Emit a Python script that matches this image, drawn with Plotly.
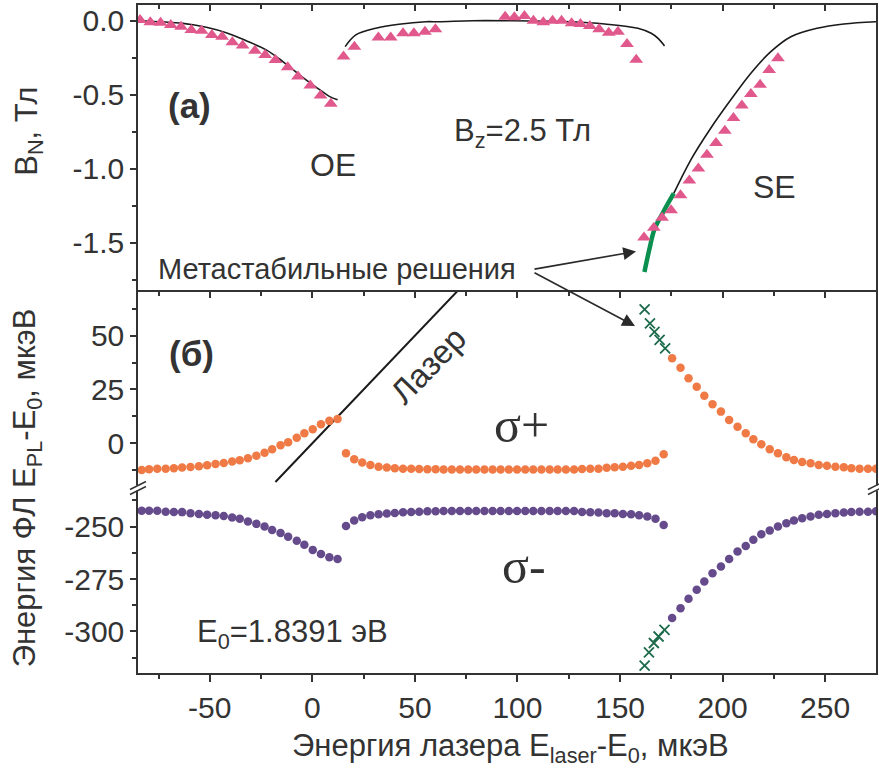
import plotly.graph_objects as go

# ---------------- data: panel (a) B_N, T ----------------
tri1_x = [-84, -79, -74, -69, -64, -59, -54, -49, -44, -39, -34, -28, -23, -18, -12, -7, -1, 4, 9]
tri1_y = [0.005, -0.011, -0.013, -0.029, -0.040, -0.063, -0.067, -0.096, -0.108, -0.145, -0.168,
          -0.202, -0.231, -0.265, -0.314, -0.377, -0.437, -0.505, -0.561]
tri2_x = [15.2, 20.5, 32.2, 38.2, 44.2, 49.5, 54.9, 60.0, 94.0, 98.5, 103.4, 107.8, 112.6, 117.1,
          121.5, 126.4, 130.7, 135.3, 139.8, 144.5, 149.0, 153.4, 157.9]
tri2_y = [-0.242, -0.175, -0.114, -0.114, -0.085, -0.085, -0.074, -0.058, 0.027, 0.023, 0.032, 0.0,
          -0.011, 0.0, 0.0, -0.017, -0.022, -0.036, -0.058, -0.081, -0.074, -0.157, -0.264]
tri3_x = [161.7, 166.5, 170.5, 174.9, 179.5, 183.8, 188.2, 192.4, 196.8, 201.1, 205.3, 209.4, 213.8,
          218.3, 222.7, 227.0]
tri3_y = [-1.464, -1.397, -1.330, -1.279, -1.178, -1.079, -0.998, -0.904, -0.825, -0.742, -0.657,
          -0.572, -0.495, -0.433, -0.332, -0.253]

line1_x = [-85, -63.1, -51.7, -42.0, -32.3, -22.5, -14.4, -6.3, 1.8, 8.3, 12.3]
line1_y = [0.0, -0.018, -0.044, -0.081, -0.135, -0.197, -0.276, -0.365, -0.448, -0.511, -0.534]
line2_x = [16.0, 21.2, 30.9, 42.2, 55.2, 61.7, 77.8, 94.0, 126.4, 142.6, 158.7, 165.2, 168.4, 171.7]
line2_y = [-0.175, -0.096, -0.051, -0.024, -0.007, -0.007, 0.0, 0.0, -0.007, -0.022, -0.051, -0.085,
           -0.118, -0.170]
line3_x = [176.2, 184.6, 194.3, 204.0, 213.8, 223.5, 233.3, 246.1, 259.1, 274.8]
line3_y = [-1.166, -0.937, -0.724, -0.534, -0.354, -0.209, -0.108, -0.051, -0.022, -0.007]
meta_x = [161.9, 164.3, 166.8, 170.9, 176.2]
meta_y = [-1.696, -1.543, -1.408, -1.296, -1.166]

# ---------------- data: panel (б) PL energy, mkeV ----------------
seg1_x = [-83.2, -79.6, -75.6, -71.5, -67.5, -63.5, -59.4, -55.3, -51.3, -47.2, -43.2, -39.1, -35.4,
          -31.4, -27.3, -23.3, -19.6, -15.5, -11.8, -7.6, -3.9, 0.2, 4.2, 8.3, 12.3]
sp1_y = [-12.4, -12.1, -11.9, -11.8, -11.6, -11.3, -11.0, -10.7, -10.2, -9.6, -9.2, -8.5, -7.9,
         -7.0, -5.8, -4.4, -2.8, -0.9, 0.5, 2.6, 4.6, 6.5, 8.8, 10.4, 11.3]
sm1_y = [-242.4, -242.4, -242.5, -242.9, -243.0, -243.1, -243.6, -244.0, -244.3, -244.6, -245.0,
         -245.7, -246.3, -247.6, -248.7, -250.0, -251.6, -253.1, -254.8, -256.8, -258.7, -261.1,
         -263.1, -264.6, -265.5]

seg2_x = [16.4, 20.4, 24.3, 28.3, 32.3, 36.3, 40.2, 44.2, 48.2, 52.1, 56.1, 60.1, 64.0, 68.0, 72.0,
          76.0, 79.9, 83.9, 87.9, 91.8, 95.8, 99.8, 103.8, 107.7, 111.7, 115.7, 119.6, 123.6, 127.6,
          131.5, 135.5, 139.5, 143.5, 147.4, 151.4, 155.4, 159.3, 163.3, 167.3, 171.3]
sp2_y = [-4.6, -7.4, -9.0, -10.1, -10.9, -11.3, -11.6, -11.8, -11.9, -12.0, -12.1, -12.1, -12.2,
         -12.2, -12.2, -12.2, -12.2, -12.2, -12.2, -12.2, -12.2, -12.2, -12.2, -12.2, -12.2, -12.2,
         -12.2, -12.2, -12.2, -12.0, -11.8, -11.8, -11.4, -11.2, -10.9, -10.5, -10.1, -9.3, -8.1, -5.1]
sm2_y = [-249.7, -247.1, -245.5, -244.6, -244.1, -243.8, -243.5, -243.2, -243.0, -242.9, -242.7,
         -242.7, -242.6, -242.6, -242.6, -242.6, -242.6, -242.6, -242.6, -242.6, -242.6, -242.6,
         -242.6, -242.6, -242.6, -242.6, -242.6, -242.6, -242.6, -243.0, -243.2, -243.3, -243.6,
         -243.6, -244.0, -244.1, -244.6, -245.2, -246.3, -249.2]

seg3_x = [175.4, 179.5, 183.4, 187.4, 191.1, 195.1, 199.2, 203.2, 207.3, 211.3, 215.0, 218.9, 223.0,
          227.0, 231.1, 234.8, 238.8, 242.9, 246.9, 250.9, 255.0, 259.1, 262.8, 266.8, 270.9, 274.8]
sp3_y = [39.5, 35.1, 30.2, 26.3, 22.1, 18.1, 14.7, 10.8, 7.7, 4.6, 1.9, -0.5, -2.8, -4.6, -6.5,
         -7.8, -8.7, -9.3, -10.1, -10.5, -10.9, -11.1, -11.6, -11.8, -11.8, -11.9]
sm3_y = [-293.6, -288.9, -284.4, -280.1, -276.2, -272.2, -269.0, -265.4, -261.9, -259.2, -256.3,
         -253.6, -251.9, -250.0, -248.4, -247.1, -246.0, -245.2, -244.4, -244.0, -243.6, -243.3,
         -243.0, -242.9, -242.9, -242.7]

xp_x = [162.0, 164.6, 166.8, 169.3, 172.0]
xp_y = [62.2, 55.7, 51.8, 48.0, 44.1]
xm_x = [162.0, 164.1, 166.5, 168.8, 171.7]
xm_y = [-316.3, -310.0, -305.5, -302.4, -299.2]

laser_x = [-18, 75]
laser_y = [-18, 75]

x_ticks = [-50, 0, 50, 100, 150, 200, 250]
x_minor = [-75, -25, 25, 75, 125, 175, 225]
ya_ticks = [0.0, -0.5, -1.0, -1.5]
ya_minor = [-0.25, -0.75, -1.25, -1.75]
yb_ticks = [0, 25, 50]
yb_minor = [12.5, 37.5, 62.5, -12.5]
yc_ticks = [-250, -275, -300]
yc_minor = [-237.5, -262.5, -287.5, -312.5]


def lab(v, fmt):
    return fmt.format(v).replace("\u2212", "-")


PINK = "#e0588c"
ORANGE = "#f07a45"
PURPLE = "#654b8c"
GREEN = "#0a8f4e"
XGREEN = "#1d6b4c"
LINE = "#1a1a1a"
AX = "#333333"
TXT = "#333333"
FONT = "Liberation Sans, Arial, sans-serif"
SERIF = "Liberation Serif, Times New Roman, serif"

fig = go.Figure()

# panel (a)
for lx, ly in [(line1_x, line1_y), (line2_x, line2_y), (line3_x, line3_y)]:
    fig.add_trace(go.Scatter(x=lx, y=ly, mode="lines", line=dict(color=LINE, width=1.6, shape="spline"),
                             xaxis="x3", yaxis="y", showlegend=False))
fig.add_trace(go.Scatter(x=meta_x, y=meta_y, mode="lines", line=dict(color=GREEN, width=4.5, shape="spline"),
                         xaxis="x3", yaxis="y", showlegend=False))
for tx, ty in [(tri1_x, tri1_y), (tri2_x, tri2_y), (tri3_x, tri3_y)]:
    fig.add_trace(go.Scatter(x=tx, y=ty, mode="markers",
                             marker=dict(symbol="triangle-up", size=12, color=PINK, line=dict(width=0)),
                             xaxis="x3", yaxis="y", showlegend=False))

# panel (б) upper
fig.add_trace(go.Scatter(x=laser_x, y=laser_y, mode="lines", line=dict(color=LINE, width=2),
                         xaxis="x2", yaxis="y2", showlegend=False))
for sx, sy in [(seg1_x, sp1_y), (seg2_x, sp2_y), (seg3_x, sp3_y)]:
    fig.add_trace(go.Scatter(x=sx, y=sy, mode="markers", marker=dict(size=8.5, color=ORANGE),
                             xaxis="x2", yaxis="y2", showlegend=False))
fig.add_trace(go.Scatter(x=xp_x, y=xp_y, mode="markers",
                         marker=dict(symbol="x-thin", size=10, line=dict(color=XGREEN, width=1.8)),
                         xaxis="x2", yaxis="y2", showlegend=False))

# panel (б) lower
for sx, sy in [(seg1_x, sm1_y), (seg2_x, sm2_y), (seg3_x, sm3_y)]:
    fig.add_trace(go.Scatter(x=sx, y=sy, mode="markers", marker=dict(size=8.5, color=PURPLE),
                             xaxis="x", yaxis="y3", showlegend=False))
fig.add_trace(go.Scatter(x=xm_x, y=xm_y, mode="markers",
                         marker=dict(symbol="x-thin", size=10, line=dict(color=XGREEN, width=1.8)),
                         xaxis="x", yaxis="y3", showlegend=False))

dA = (673 - 292) / 668
dB = (673 - 488) / 668

common = dict(showgrid=False, zeroline=False, showline=True, linecolor=AX, linewidth=1.5,
              tickcolor=AX, tickwidth=1.5, tickfont=dict(family=FONT, size=30, color=TXT))

fig.update_layout(
    width=879, height=773,
    margin=dict(l=138, r=1, t=5, b=100),
    paper_bgcolor="white", plot_bgcolor="white",
    font=dict(family=FONT, color=TXT),
    xaxis=dict(domain=[0, 1], anchor="y3", range=[-85, 274.8], tickvals=x_ticks,
               ticktext=[lab(v, "{:d}") for v in x_ticks], ticks="outside", ticklen=7,
               minor=dict(tickvals=x_minor, ticks="outside", ticklen=4, tickcolor=AX, tickwidth=1.5),
               **common),
    xaxis2=dict(domain=[0, 1], anchor="y2", matches="x", side="top", tickvals=x_ticks,
                showticklabels=False, ticks="inside", ticklen=6,
                minor=dict(tickvals=x_minor, ticks="inside", ticklen=4, tickcolor=AX, tickwidth=1.5),
                **common),
    xaxis3=dict(domain=[0, 1], anchor="y", matches="x", side="top", tickvals=x_ticks,
                showticklabels=False, ticks="inside", ticklen=6,
                minor=dict(tickvals=x_minor, ticks="inside", ticklen=4, tickcolor=AX, tickwidth=1.5),
                **common),
    yaxis=dict(domain=[dA, 1], anchor="x3", range=[-1.831, 0.106], tickvals=ya_ticks,
               ticktext=[lab(v, "{:.1f}") for v in ya_ticks], ticks="outside", ticklen=6, mirror=True,
               minor=dict(tickvals=ya_minor, ticks="outside", ticklen=4, tickcolor=AX, tickwidth=1.5),
               **common),
    yaxis2=dict(domain=[dB, dA], anchor="x2", range=[-20.8, 70.3], tickvals=yb_ticks,
                ticktext=[lab(v, "{:d}") for v in yb_ticks], ticks="outside", ticklen=6, mirror=True,
                minor=dict(tickvals=yb_minor, ticks="outside", ticklen=4, tickcolor=AX, tickwidth=1.5),
                **common),
    yaxis3=dict(domain=[0, dB], anchor="x", range=[-319.8, -231.6], tickvals=yc_ticks,
                ticktext=[lab(v, "{:d}") for v in yc_ticks], ticks="outside", ticklen=6, mirror=True,
                minor=dict(tickvals=yc_minor, ticks="outside", ticklen=4, tickcolor=AX, tickwidth=1.5),
                **common),
)

def ann(text, x, y, xref, yref, size=28, bold=False, angle=0, family=FONT, xanchor="center"):
    t = f"<b>{text}</b>" if bold else text
    fig.add_annotation(text=t, x=x, y=y, xref=xref, yref=yref, showarrow=False, textangle=angle,
                       xanchor=xanchor, yanchor="middle",
                       font=dict(family=family, size=size, color=TXT))

ann("(a)", -60.0, -0.57, "x3", "y", size=35, bold=True)
ann("OE", 10.2, -0.972, "x3", "y", size=32)
ann("B<sub>z</sub>=2.5 Тл", 102.4, -0.76, "x3", "y", size=31)
ann("SE", 225.2, -1.119, "x3", "y", size=32)
ann("Метастабильные решения", -76.0, -1.678, "x3", "y", size=29, xanchor="left")
ann("(б)", -59.0, 41.9, "x2", "y2", size=35, bold=True)
ann("Лазер", 56.5, 36.0, "x2", "y2", size=33, angle=-46)
ann("σ+", 102.0, 8.5, "x2", "y2", size=50, family=SERIF)
ann("σ-", 103.0, -268.7, "x", "y3", size=50, family=SERIF)
ann("E<sub>0</sub>=1.8391 эВ", -9.7, -301.0, "x", "y3", size=31)

# axis titles
ann("B<sub>N</sub>, Тл", -0.148, (673 - 131) / 668, "paper", "paper", size=31, angle=-90)
ann("Энергия ФЛ E<sub>PL</sub>-E<sub>0</sub>, мкэВ", -0.150, (673 - 488) / 668, "paper", "paper",
    size=31, angle=-90)
ann("Энергия лазера E<sub>laser</sub>-E<sub>0</sub>, мкэВ", (512 - 138) / 740, (673 - 748) / 668,
    "paper", "paper", size=31)

# arrows from the "Метастабильные решения" label
fig.add_annotation(x=157.8, y=-1.557, xref="x3", yref="y", ax=-103, ay=18, axref="pixel", ayref="pixel",
                   showarrow=True, arrowhead=2, arrowsize=1.6, arrowwidth=1.6, arrowcolor="#2a2a2a", text="")
fig.add_annotation(x=157.3, y=54.5, xref="x2", yref="y2", ax=-102, ay=-54, axref="pixel", ayref="pixel",
                   showarrow=True, arrowhead=2, arrowsize=1.6, arrowwidth=1.6, arrowcolor="#2a2a2a", text="")

# axis-break marks
for xa in (0, 1):
    fig.add_shape(type="rect", xref="paper", yref="paper", xsizemode="pixel", ysizemode="pixel",
                  xanchor=xa, yanchor=dB, x0=-3, x1=3, y0=-2.5, y1=2.5,
                  fillcolor="white", line=dict(width=0), layer="above")
    for dy in (-2.5, 2.5):
        fig.add_shape(type="line", xref="paper", yref="paper", xsizemode="pixel", ysizemode="pixel",
                      xanchor=xa, yanchor=dB, x0=-8, x1=8, y0=dy - 4, y1=dy + 4,
                      line=dict(color=AX, width=1.5), layer="above")

fig.write_html("out.html")
